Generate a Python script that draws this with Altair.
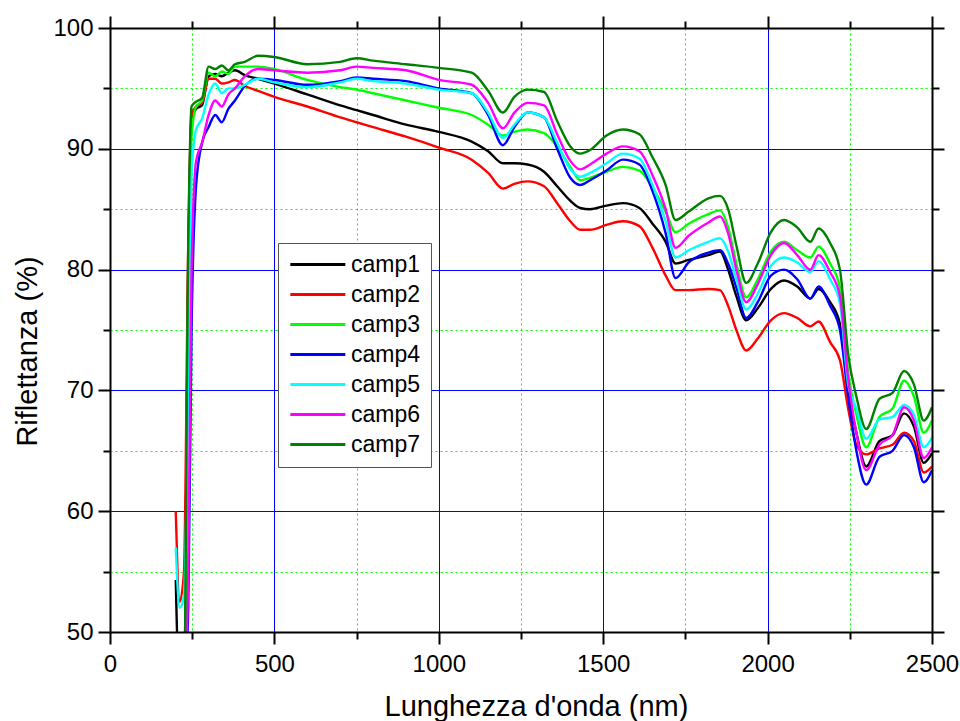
import altair as alt
import pandas as pd

# Wavelength grid (nm) shared by all reflectance spectra
wavelength = [200, 212, 225, 238, 248, 262, 280, 300, 320, 340,
              360, 380, 410, 450, 500, 600, 700, 750, 800, 900,
              1000, 1100, 1150, 1195, 1230, 1270, 1320, 1360, 1400, 1430,
              1460, 1510, 1560, 1610, 1650, 1690, 1720, 1760, 1820, 1855,
              1880, 1905, 1935, 1970, 2010, 2050, 2090, 2130, 2155, 2190,
              2220, 2245, 2270, 2300, 2340, 2380, 2415, 2445, 2475, 2500]

# Reflectance (%) of each sample
camp1 = [54.3, 45, 45, 80, 92.5, 93.3, 93.6, 96.0, 96.2, 96.0,
         96.3, 96.5, 96.1, 95.8, 95.4, 94.5, 93.6, 93.2, 92.8, 92.0,
         91.4, 90.6, 89.8, 88.8, 88.8, 88.7, 88.1, 86.9, 85.7, 85.1,
         85.0, 85.3, 85.5, 85.1, 83.8, 82.3, 80.5, 80.8, 81.2, 81.5,
         80.0, 77.8, 75.8, 76.8, 78.4, 79.1, 78.6, 77.6, 78.4, 77.3,
         75.5, 70.0, 66.5, 63.7, 65.8, 66.3, 68.1, 67.0, 64.0, 64.8]
camp2 = [60.0, 52.5, 55, 82, 92.8, 93.5, 93.8, 95.8, 95.8, 95.4,
         95.5, 95.7, 95.2, 94.8, 94.3, 93.5, 92.6, 92.2, 91.8, 91.0,
         90.1, 89.1, 88.0, 86.7, 87.1, 87.3, 86.9, 85.5, 84.0, 83.3,
         83.3, 83.7, 84.0, 83.6, 81.8, 79.5, 78.3, 78.3, 78.4, 78.3,
         77.0, 75.0, 73.3, 74.3, 75.8, 76.4, 76.0, 75.3, 75.7, 74.0,
         72.5, 68.5, 65.5, 64.7, 65.2, 65.5, 66.5, 65.8, 63.2, 63.7]
camp3 = [45, 45, 45, 78, 91.0, 93.5, 94.0, 96.3, 96.0, 96.4,
         96.2, 96.8, 96.8, 96.8, 96.6, 95.7, 95.1, 94.9, 94.6, 94.0,
         93.4, 92.8, 92.0, 91.1, 91.4, 91.6, 91.3, 90.2, 88.5, 87.4,
         87.6, 88.1, 88.5, 88.2, 86.8, 84.8, 83.1, 83.8, 84.6, 84.9,
         83.5, 80.5, 77.7, 79.2, 81.5, 82.3, 81.6, 81.0, 81.9, 80.5,
         78.5, 71.5, 68.0, 65.3, 67.8, 68.5, 70.8, 69.5, 66.5, 67.5]
camp4 = [45, 45, 45, 52, 75, 87, 90.5, 91.8, 92.8, 92.2,
         93.3, 94.0, 95.2, 95.8, 95.7, 95.3, 95.6, 95.9, 95.8, 95.6,
         95.0, 94.6, 92.8, 90.3, 91.8, 93.0, 92.6, 90.0, 87.6, 87.0,
         87.4, 88.2, 89.1, 88.7, 86.5, 83.0, 79.3, 80.6, 81.4, 81.6,
         80.5, 78.5, 76.0, 77.3, 79.5, 80.0, 79.2, 77.6, 78.6, 77.0,
         75.0, 69.5, 65.0, 62.2, 64.5, 65.0, 66.3, 65.3, 62.4, 63.4]
camp5 = [57.0, 52.0, 53, 70, 88, 91.6, 92.5, 94.5, 95.4, 94.6,
         95.0, 95.0, 95.3, 95.8, 95.5, 95.1, 95.5, 95.8, 95.6, 95.4,
         94.9, 94.6, 93.0, 90.9, 92.0, 93.0, 92.6, 90.5, 88.3, 87.7,
         88.0, 88.8, 89.6, 89.2, 87.0, 84.0, 81.0, 81.6, 82.3, 82.6,
         81.5, 79.2, 76.7, 78.0, 80.3, 81.0, 80.6, 79.8, 80.7, 79.2,
         77.2, 70.5, 68.5, 66.0, 67.6, 67.8, 68.8, 68.0, 65.3, 66.1]
camp6 = [45, 45, 45, 55, 80, 89.0, 90.5, 92.8, 94.0, 93.5,
         94.5, 95.0, 96.0, 96.6, 96.5, 96.3, 96.5, 96.8, 96.7, 96.5,
         95.7, 95.3, 93.8, 91.7, 93.0, 93.8, 93.6, 91.2, 89.0, 88.3,
         88.7, 89.6, 90.2, 89.8, 87.8, 85.0, 81.8, 82.8, 83.9, 84.4,
         83.0, 80.0, 77.3, 78.8, 81.2, 82.2, 81.2, 80.0, 81.2, 79.8,
         77.8, 71.0, 66.5, 63.4, 65.5, 66.3, 68.6, 67.5, 64.4, 65.3]
camp7 = [45, 45, 45, 82, 93.5, 93.9, 94.2, 96.8, 96.6, 96.9,
         96.5, 97.0, 97.2, 97.7, 97.6, 97.0, 97.2, 97.5, 97.3, 97.0,
         96.7, 96.3, 94.8, 93.0, 94.3, 94.9, 94.7, 92.3, 90.2, 89.6,
         89.9, 91.1, 91.6, 91.2, 89.3, 87.0, 84.1, 84.8, 85.9, 86.1,
         85.0, 82.0, 78.9, 80.5, 83.1, 84.1, 83.5, 82.3, 83.4, 82.2,
         80.0, 73.0, 69.5, 66.8, 69.3, 69.8, 71.6, 70.5, 67.5, 68.6]

series_names = ["camp1", "camp2", "camp3", "camp4", "camp5", "camp6", "camp7"]
series_values = [camp1, camp2, camp3, camp4, camp5, camp6, camp7]
series_colors = ["#000000", "#ff0000", "#00ff00", "#0000ff", "#00ffff", "#ff00ff", "#008000"]

# Tick and grid positions
major_x = [0, 500, 1000, 1500, 2000, 2500]
minor_x = [250, 750, 1250, 1750, 2250]
major_y = [50, 60, 70, 80, 90, 100]
minor_y = [55, 65, 75, 85, 95]
grid_x = [500, 1000, 1500, 2000]
grid_y = [60, 70, 80, 90]

rows = []
for name, vals in zip(series_names, series_values):
    for w, v in zip(wavelength, vals):
        rows.append({"wl": w, "R": v, "serie": name})
df = pd.DataFrame(rows)

FONT = "Liberation Sans"
x_scale = alt.Scale(domain=[0, 2500], nice=False, zero=False)
y_scale = alt.Scale(domain=[50, 100], nice=False, zero=False)

base = alt.Chart(df)


def guide_layer(x_axis, y_axis):
    """Invisible layer that only carries an extra pair of axes."""
    return base.mark_line(strokeOpacity=0, clip=True).encode(
        x=alt.X("wl:Q", scale=x_scale, axis=x_axis),
        y=alt.Y("R:Q", scale=y_scale, axis=y_axis),
        detail="serie:N",
    )


def grid_axis(orient, values, color, dash=None):
    kw = dict(orient=orient, values=values, grid=True, gridColor=color, gridWidth=1,
              gridOpacity=1, ticks=False, labels=False, domain=False, title=None, zindex=0)
    if dash:
        kw["gridDash"] = dash
    return alt.Axis(**kw)


def tick_axis(orient, values, size, frame):
    kw = dict(orient=orient, values=values, grid=False, ticks=True, tickSize=size,
              tickWidth=2, tickColor="black", labels=False, title=None, zindex=1,
              domain=frame)
    if frame:
        kw.update(domainColor="black", domainWidth=2)
    return alt.Axis(**kw)


minor_grid = guide_layer(grid_axis("bottom", minor_x, "#00ff00", [2, 3]),
                         grid_axis("left", minor_y, "#00ff00", [2, 3]))
major_grid = guide_layer(grid_axis("bottom", grid_x, "#0000ff"),
                         grid_axis("left", grid_y, "#0000ff"))
minor_ticks = guide_layer(tick_axis("bottom", minor_x, 7, False),
                          tick_axis("left", minor_y, 7, False))
top_right_major = guide_layer(tick_axis("top", major_x, 12, True),
                              tick_axis("right", major_y, 12, True))
top_right_minor = guide_layer(tick_axis("top", minor_x, 7, False),
                              tick_axis("right", minor_y, 7, False))

x_main = alt.Axis(
    orient="bottom", values=major_x, format="d", grid=False, tickSize=12, tickWidth=2,
    tickColor="black", domain=True, domainColor="black", domainWidth=2, zindex=1,
    labelFont=FONT, labelFontSize=24, labelColor="black", labelPadding=8,
    labelFlush=False, labelOverlap=False, labelBound=False,
    title="Lunghezza d'onda (nm)", titleFont=FONT, titleFontSize=29,
    titleFontWeight="normal", titleColor="black", titleX=426, titleY=83,
    titleAlign="center", titleBaseline="alphabetic",
)
y_main = alt.Axis(
    orient="left", values=major_y, format="d", grid=False, tickSize=12, tickWidth=2,
    tickColor="black", domain=True, domainColor="black", domainWidth=2, zindex=1,
    labelFont=FONT, labelFontSize=24, labelColor="black", labelPadding=5,
    labelFlush=False, labelOverlap=False, labelBound=False,
    title="Riflettanza (%)", titleFont=FONT, titleFontSize=29,
    titleFontWeight="normal", titleColor="black", titleX=-74, titleY=323,
    titleAngle=270, titleAlign="center", titleBaseline="alphabetic",
)

# Legend key: a horizontal stroke three symbol-units long, so the entry
# height stays driven by the label font while the key reads as a long line.
KEY_UNIT = 55 / 3
legend = alt.Legend(
    title=None, orient="none", legendX=168, legendY=215, direction="vertical",
    symbolType="M-3,0H3", symbolSize=KEY_UNIT ** 2, symbolStrokeWidth=3,
    symbolOffset=KEY_UNIT, labelOffset=55 + 9 - KEY_UNIT - 24,
    labelFont=FONT, labelFontSize=23, labelColor="black",
    rowPadding=6, padding=10, strokeColor="#555555", fillColor="white",
    cornerRadius=0,
)

spectra = base.mark_line(strokeWidth=2.4, clip=True, interpolate="monotone").encode(
    x=alt.X("wl:Q", scale=x_scale, axis=x_main),
    y=alt.Y("R:Q", scale=y_scale, axis=y_main),
    color=alt.Color(
        "serie:N",
        scale=alt.Scale(domain=series_names, range=series_colors),
        legend=legend,
    ),
    order=alt.Order("wl:Q"),
)

chart = alt.layer(
    minor_grid, major_grid, minor_ticks, top_right_major, top_right_minor, spectra
).resolve_axis(
    x="independent", y="independent"
).properties(
    width=822, height=604,
    padding={"left": 110, "top": 28, "right": 28, "bottom": 89},
    autosize=alt.AutoSizeParams(type="none"),
    background="white",
).configure_view(stroke=None)

chart.save("out.html", embed_options={"renderer": "svg", "actions": False})
